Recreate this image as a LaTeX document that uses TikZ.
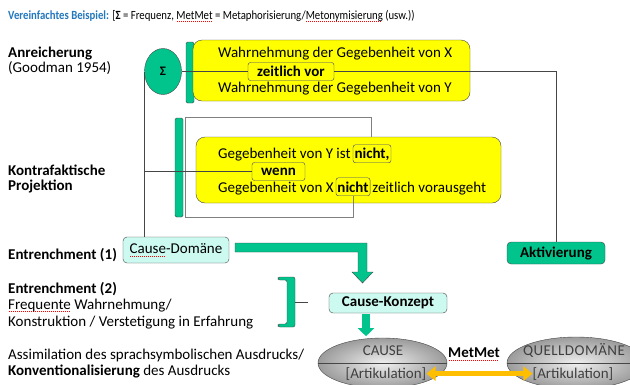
\documentclass[tikz,border=0pt]{standalone}
\usepackage{fontspec}
\setmainfont{Carlito}
\usetikzlibrary{shapes.geometric, arrows.meta, positioning, calc, backgrounds}
\definecolor{titleblue}{RGB}{35,120,190}
\definecolor{mintgreen}{RGB}{0,196,140}
\definecolor{mintlight}{RGB}{205,250,240}
\definecolor{boxyellow}{RGB}{255,255,0}
\definecolor{arrorange}{RGB}{255,190,0}
\definecolor{edgegrey}{RGB}{70,70,70}
\definecolor{kwblue}{RGB}{60,60,130}
\newsavebox{\spellbox}
\newcommand{\spellmark}[1]{\sbox{\spellbox}{#1}\makebox[0pt][l]{\color{red}\raisebox{-2.5pt}{\hbox to \wd\spellbox{\leaders\hbox to 2pt{\hss\rule{1pt}{0.6pt}\hss}\hfill}}}\usebox{\spellbox}}

\begin{document}
\begin{tikzpicture}[x=1pt, y=-1pt, font=\fontsize{15}{18}\selectfont,
  lbl/.style={anchor=base west, inner sep=0pt},
  ybox/.style={draw=edgegrey, fill=boxyellow, rounded corners=9pt, inner sep=0pt},
  kw/.style={draw=kwblue, fill=boxyellow, rounded corners=2.5pt, inner sep=1.5pt, minimum height=18pt, font=\fontsize{15}{18}\selectfont\bfseries},
  gbar/.style={draw=edgegrey, fill=mintgreen, rounded corners=1.5pt},
  gbox/.style={draw=edgegrey, rounded corners=4pt, inner sep=2pt},
  domell/.style={ellipse, draw=edgegrey, shading=radial, inner color=gray!12, outer color=gray!78, inner sep=0pt},
  elltext/.style={text=black!75},
  link/.style={draw=edgegrey, line width=0.7pt},
  loopline/.style={draw=gray, line width=0.8pt}]
  \useasboundingbox (0,0) rectangle (630,384);
  \fill[white] (0,0) rectangle (630,384);

  % title
  \node[lbl, font=\fontsize{12.5}{14}\selectfont\addfontfeature{FakeStretch=0.86}] (title) at (8,19) {\textcolor{titleblue}{\textbf{Vereinfachtes Beispiel:}} [\textbf{Σ} = Frequenz, \spellmark{MetMet} = Metaphorisierung/\spellmark{Metonymisierung} (usw.))};

  % left column
  \node[lbl, font=\fontsize{15}{18}\selectfont\bfseries] (anreich) at (8,57) {Anreicherung};
  \node[lbl] (goodman) at (8,72) {(Goodman 1954)};
  \node[lbl, font=\fontsize{15}{18}\selectfont\bfseries] (kontra) at (8,175) {Kontrafaktische};
  \node[lbl, font=\fontsize{15}{18}\selectfont\bfseries] (projekt) at (8,190) {Projektion};
  \node[lbl, font=\fontsize{15}{18}\selectfont\bfseries] (entr1) at (8,259) {Entrenchment (1)};
  \node[lbl, font=\fontsize{15}{18}\selectfont\bfseries] (entr2) at (8,293) {Entrenchment (2)};
  \node[lbl] (freq) at (8,309) {\spellmark{Frequente} Wahrnehmung/};
  \node[lbl] (konstr) at (8,326) {Konstruktion / Verstetigung in Erfahrung};
  \node[lbl] (assim) at (8,359) {Assimilation des sprachsymbolischen Ausdrucks/};
  \node[lbl] (konv) at (8,375) {\textbf{Konventionalisierung} des Ausdrucks};

  % Anreicherung
  \node[ellipse, draw=edgegrey, fill=mintgreen, minimum width=37pt, minimum height=46pt, inner sep=0pt, font=\fontsize{13}{15}\selectfont\bfseries] (sigma) at (163,71.5) {Σ};
  \filldraw[gbar] (186,42) rectangle (194,103);
  \node[ybox, minimum width=277pt, minimum height=61pt] (wahr) at (331.5,70.5) {};
  \node[lbl] (wahrX) at (218,57) {Wahrnehmung der Gegebenheit von X};
  \node[kw, minimum width=86pt] (zeit) at (291,71.5) {zeitlich vor};
  \node[lbl] (wahrY) at (218,92) {Wahrnehmung der Gegebenheit von Y};

  % Kontrafaktische Projektion
  \filldraw[gbar] (175,118) rectangle (183,217);
  \node[ybox, minimum width=305pt, minimum height=66pt] (gegeb) at (348.5,170) {};
  \node[lbl] (gegY) at (218,158) {Gegebenheit von Y ist};
  \node[kw, base right=2pt of gegY] (nicht1) {nicht,};
  \node[kw, minimum width=53pt] (wenn) at (278.5,171.5) {wenn};
  \node[lbl] (gegX) at (218,192) {Gegebenheit von X};
  \node[kw, base right=2pt of gegX] (nicht2) {nicht};
  \node[lbl, base right=2pt of nicht2] (vorausg) {zeitlich vorausgeht};

  % Entrenchment
  \node[gbox, fill=mintlight, minimum width=106pt, minimum height=26pt] (dom) at (176,250) {\spellmark{Cause}-Domäne};
  \node[gbox, fill=mintlight, minimum width=118pt, minimum height=20pt, font=\fontsize{15}{18}\selectfont\bfseries] (konz) at (388,303) {Cause-Konzept};
  \node[gbox, fill=mintgreen, minimum width=98pt, minimum height=22pt, font=\fontsize{15}{18}\selectfont\bfseries] (aktiv) at (556,253) {Aktivierung};
  \filldraw[gbar, rounded corners=2pt] (278,277) -- (295,277) -- (295,327) -- (278,327) -- (278,324) -- (287,324) -- (287,280) -- (278,280) -- cycle;
  \draw[link] (295,302) -- (308,302);

  % big bent arrow
  \filldraw[draw=edgegrey, fill=mintgreen] (235,243) -- (367,243) -- (367,272) -- (373,272) -- (362.5,283) -- (352,272) -- (358,272) -- (358,252) -- (235,252) -- cycle;
  \draw[mintgreen, line width=8pt, -{Triangle[length=8pt, width=16pt]}] ($(konz.south)+(-22,1)$) -- ($(konz.south)+(-22,23)$);

  % domains
  \node[domell, minimum width=129pt, minimum height=50pt] (cause) at (382.5,363) {};
  \node[domell, minimum width=138pt, minimum height=52pt] (quell) at (576,363) {};
  \draw[edgegrey] (cause.west) -- (cause.east);
  \draw[edgegrey] (quell.west) -- (quell.east);
  \node[lbl, elltext, anchor=base] (causeT) at (383,355) {CAUSE};
  \node[lbl, elltext, anchor=base] (art1) at (386,378) {[Artikulation]};
  \node[lbl, elltext, anchor=base] (quellT) at (574,355) {\addfontfeature{LetterSpace=3}QUELLDOMÄNE};
  \node[lbl, elltext, anchor=base] (art2) at (573,378) {[Artikulation]};
  \node[font=\fontsize{15}{18}\selectfont\bfseries] (metmet) at (474,354) {\spellmark{MetMet}};
  \draw[line width=5pt, arrorange, {Triangle[length=9pt, width=14pt]}-{Triangle[length=9pt, width=14pt]}] (art1.east) -- (art2.west);

  % connectors
  \coordinate (loopA) at (185,217);
  \coordinate (loopB) at (371,117);
  \draw[loopline] (nicht2.south) |- (loopA) |- (loopB) -- (loopB |- gegeb.north);
  \draw[link] (sigma.east) -- (zeit.west);
  \draw[link] (zeit.east) -| (aktiv.north);
  \begin{scope}[on background layer]
    \draw[link] (aktiv.south) -- (aktiv.south |- quell.center);
  \end{scope}
  \draw[link] (sigma.west) -- (sigma.west |- dom.north);
  \draw[link] (sigma.west |- wenn.west) -- (wenn.west);
\end{tikzpicture}
\end{document}
